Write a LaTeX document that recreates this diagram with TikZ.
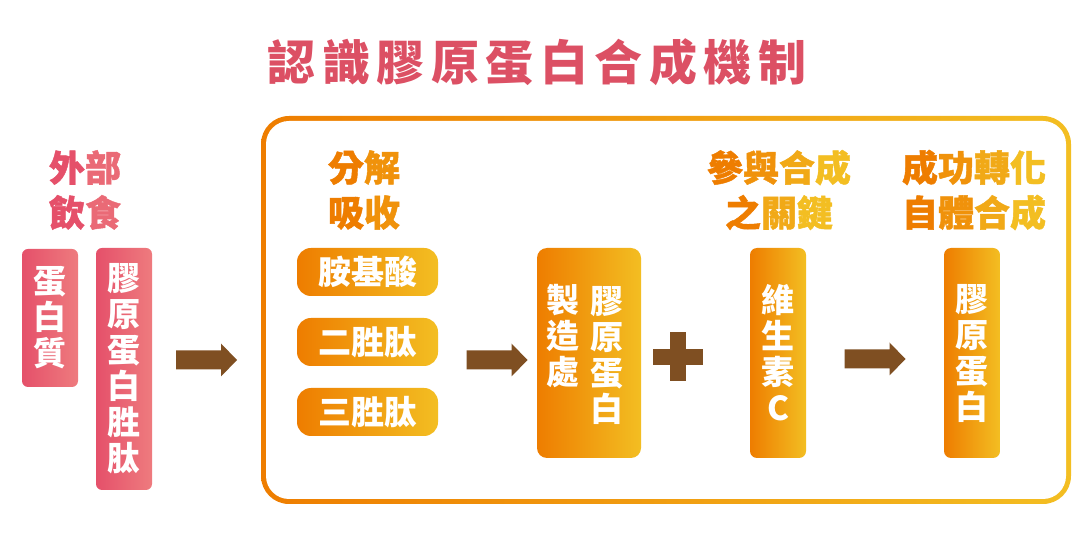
\documentclass[tikz,border=0pt]{standalone}
\usepackage{fontspec}
\setmainfont{Noto Sans CJK TC}
\usetikzlibrary{positioning}

\definecolor{ttl}{HTML}{DC5064}
\definecolor{pk1}{HTML}{E5506A}
\definecolor{pk2}{HTML}{EE7B7E}
\definecolor{og}{HTML}{EE7D00}
\definecolor{yl}{HTML}{F3BE22}
\definecolor{brn}{HTML}{7F4F22}
\colorlet{hA}{og}
\colorlet{hB}{yl!33!og}
\colorlet{hC}{yl!67!og}
\colorlet{hD}{yl}
\colorlet{pkB}{pk2!60!pk1}

\newcommand{\tsp}{\hspace{6.5pt}}

\tikzset{
  title/.style={text=ttl, inner sep=0, font=\bfseries\fontsize{48}{56}\selectfont},
  head/.style={align=center, inner sep=0, font=\bfseries\addfontfeature{FakeBold=1.2}\fontsize{36}{45}\selectfont},
  pinkbox/.style={rounded corners=6pt, left color=pk1, right color=pk2, text=white, align=center, inner sep=0, minimum width=56pt, font=\bfseries\fontsize{33}{36}\selectfont},
  orgbox/.style={rounded corners=10pt, left color=og, right color=yl, text=white, align=center, inner sep=0, font=\bfseries\fontsize{33}{36}\selectfont},
  pillbox/.style={orgbox, rounded corners=14pt, minimum width=141pt, minimum height=48pt},
  vtxt/.style={text=white, align=center, inner sep=0, font=\bfseries\fontsize{33}{36}\selectfont},
  barrow/.pic={\fill[brn] (-30,-9.5) -- (15,-9.5) -- (15,-16.5) -- (31,0) -- (15,16.5) -- (15,9.5) -- (-30,9.5) -- cycle;}
}

\begin{document}
\begin{tikzpicture}[x=1pt,y=-1pt]
	\useasboundingbox (0,0) rectangle (1080,534);
	
	% title
	\node[title] (tl) at (537,62) {認\tsp 識\tsp 膠\tsp 原\tsp 蛋\tsp 白\tsp 合\tsp 成\tsp 機\tsp 制};
	
	% frame
	\shade[left color=og, right color=yl, rounded corners=28pt] (261,116) rectangle (1071,504);
	\fill[white, rounded corners=23pt] (266,121) rectangle (1066,499);
	
	% outside
	\node[head] (hfood) at (85,190) {\textcolor{pk1}{外}\textcolor{pkB}{部}\\\textcolor{pk1}{飲}\textcolor{pkB}{食}};
	\node[pinkbox, minimum height=138pt] (prot) at (50,318) {蛋\\白\\質};
	\node[pinkbox, minimum height=242pt] (pept) at (124,369) {膠\\原\\蛋\\白\\胜\\肽};
	\pic at (206,360) {barrow};
	
	% absorb
	\node[head] (habs) at (364,190) {\textcolor{hA}{分}\textcolor{hB}{解}\\\textcolor{hA}{吸}\textcolor{hB}{收}};
	\node[pillbox] (amino) at (367.5,272) {胺基酸};
	\node[pillbox] (dip) at (367.5,342) {二胜肽};
	\node[pillbox] (trip) at (367.5,412) {三胜肽};
	\pic at (496.5,360) {barrow};
	
	% factory
	\node[orgbox, minimum width=104pt, minimum height=210pt] (fac) at (589,353) {};
	\node[vtxt] (facA) at (607,355) {膠\\原\\蛋\\白};
	\node[vtxt] (facB) at (563,336) {製\\造\\處};
	\fill[brn] (670,332) rectangle (686,381);
	\fill[brn] (653,349) rectangle (703,365);
	
	% vitamin C
	\node[head] (hkey) at (779,190) {\textcolor{hA}{參}\textcolor{hB}{與}\textcolor{hC}{合}\textcolor{hD}{成}\\\textcolor{hA}{之}\textcolor{hC}{關}\textcolor{hD}{鍵}};
	\node[orgbox, rounded corners=7pt, minimum width=56pt, minimum height=210pt] (vitc) at (778,353) {維\\生\\素\\C};
	\pic at (874.5,359) {barrow};
	
	% result
	\node[head] (hres) at (974,190) {\textcolor{hA}{成}\textcolor{hB}{功}\textcolor{hC}{轉}\textcolor{hD}{化}\\\textcolor{hA}{自}\textcolor{hB}{體}\textcolor{hC}{合}\textcolor{hD}{成}};
	\node[orgbox, rounded corners=7pt, minimum width=56pt, minimum height=210pt] (coll) at (972,353) {膠\\原\\蛋\\白};
\end{tikzpicture}
\end{document}
